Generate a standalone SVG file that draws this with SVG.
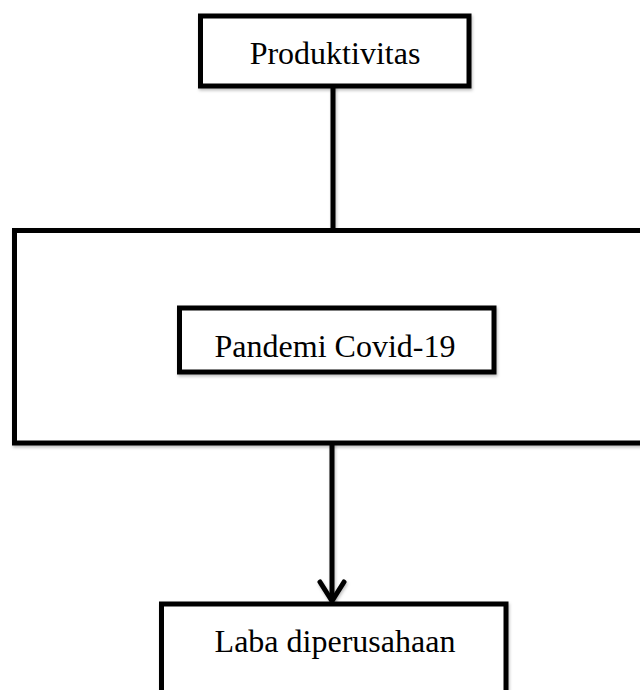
<svg xmlns="http://www.w3.org/2000/svg" width="640" height="690" viewBox="0 0 640 690">
  <style>
    .box { fill: #ffffff; stroke: #000000; stroke-width: 5; filter: url(#sh); }
    .lbl { font-family: "Liberation Serif", "Times New Roman", serif; font-size: 32px; fill: #000000; text-anchor: middle; }
    .conn { stroke: #000000; stroke-width: 5; fill: none; stroke-linecap: round; stroke-linejoin: round; filter: url(#sh); }
  </style>
  <defs>
    <filter id="sh" filterUnits="userSpaceOnUse" x="0" y="0" width="640" height="690">
      <feDropShadow dx="1" dy="2" stdDeviation="1.5" flood-color="#000000" flood-opacity="0.25"/>
    </filter>
  </defs>
  <rect width="640" height="690" fill="#ffffff"/>
  <g id="connectors">
    <line class="conn" x1="333" y1="86" x2="333" y2="230"/>
    <line class="conn" x1="332" y1="443" x2="332" y2="600"/>
    <path class="conn" d="M320 582 L332 601 L344 582"/>
  </g>
  <g id="node-pandemi-outer">
    <rect class="box" x="14.5" y="230.5" width="640" height="212.5"/>
  </g>
  <g id="node-produktivitas">
    <rect class="box" x="200.5" y="16" width="268.5" height="70"/>
    <text class="lbl" x="335" y="64">Produktivitas</text>
  </g>
  <g id="node-pandemi">
    <rect class="box" x="179.5" y="308" width="314.5" height="64"/>
    <text class="lbl" x="335" y="357">Pandemi Covid-19</text>
  </g>
  <g id="node-laba">
    <rect class="box" x="161.5" y="604" width="344.5" height="100"/>
    <text class="lbl" x="335" y="652">Laba diperusahaan</text>
  </g>
</svg>
